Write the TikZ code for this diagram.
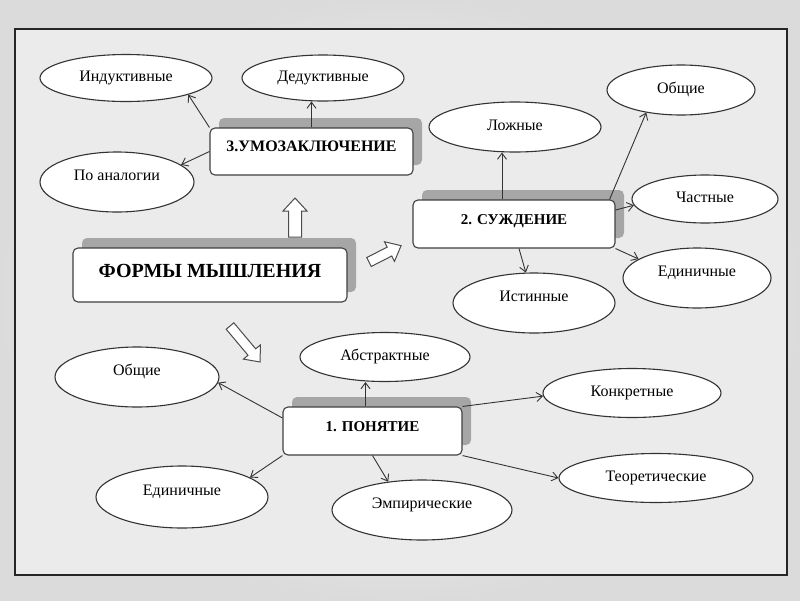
\documentclass[tikz,border=0pt]{standalone}
\usepackage{fontspec}
\setmainfont{Liberation Serif}
\usetikzlibrary{shapes.geometric,shadows,arrows.meta}

\begin{document}
\begin{tikzpicture}[x=1pt,y=-1pt,
  ell/.style={ellipse,draw=black!80,line width=1.1pt,fill=white,inner sep=0pt,
    font=\fontsize{16}{18}\selectfont,text height=10pt,text depth=3pt},
  lifted/.style={text depth=13pt},
  box/.style={rectangle,rounded corners=5pt,draw=black!75,line width=1.1pt,fill=white,
    inner sep=0pt,text height=10pt,text depth=10pt,font=\bfseries\fontsize{15}{17}\selectfont,
    drop shadow={shadow xshift=9pt,shadow yshift=10pt,fill=black!35,opacity=1}},
  link/.style={-{Straight Barb[length=6pt,width=9pt]},black!80,line width=0.9pt},
  blockarr/.style={fill=white,draw=black!70,line width=1pt}]
  \useasboundingbox (0,0) rectangle (800,600);
  \shade[inner color=white,outer color=gray!28] (0,0) rectangle (800,600);
  \fill[black!8] (15,29) rectangle (787,575);
  \draw[black!85,line width=2pt] (15,29) rectangle (787,575);

  % main boxes
  \node[box,minimum width=274pt,minimum height=54pt,text height=14pt,
    font=\bfseries\fontsize{20}{22}\selectfont] (forms) at (210,275) {ФОРМЫ МЫШЛЕНИЯ};
  \node[box,minimum width=203pt,minimum height=47pt,
    font=\bfseries\fontsize{16}{18}\selectfont] (umo) at (311.5,151.5) {3.УМОЗАКЛЮЧЕНИЕ};
  \node[box,minimum width=202pt,minimum height=48pt] (sud) at (514,224) {2. СУЖДЕНИЕ};
  \node[box,minimum width=179pt,minimum height=48pt,
    font=\bfseries\fontsize{15}{17}\selectfont] (pon) at (372.5,431) {1. ПОНЯТИЕ};

  % ellipses
  \node[ell,minimum width=172pt,minimum height=47pt] (ind) at (126,78) {Индуктивные};
  \node[ell,minimum width=162pt,minimum height=46pt] (ded) at (323,78) {Дедуктивные};
  \node[ell,lifted,minimum width=154pt,minimum height=60pt] (ana) at (117,182) {По аналогии};
  \node[ell,minimum width=172pt,minimum height=50pt] (lozh) at (515,127) {Ложные};
  \node[ell,minimum width=148pt,minimum height=50pt] (obsch) at (681,90) {Общие};
  \node[ell,minimum width=146pt,minimum height=48pt] (chast) at (705,199) {Частные};
  \node[ell,lifted,minimum width=148pt,minimum height=60pt] (edin) at (697,278) {Единичные};
  \node[ell,lifted,minimum width=162pt,minimum height=60pt] (ist) at (534,303) {Истинные};
  \node[ell,minimum width=170pt,minimum height=49pt] (abstr) at (385,357) {Абстрактные};
  \node[ell,lifted,minimum width=164pt,minimum height=60pt] (obsch2) at (137,377) {Общие};
  \node[ell,minimum width=178pt,minimum height=49pt] (konkr) at (632,393) {Конкретные};
  \node[ell,lifted,minimum width=172pt,minimum height=62pt] (edin2) at (182,497) {Единичные};
  \node[ell,lifted,minimum width=180pt,minimum height=60pt] (emp) at (422,510) {Эмпирические};
  \node[ell,minimum width=194pt,minimum height=49pt] (teor) at (656,478) {Теоретические};

  % links
  \draw[link] (umo.north west) -- (ind.-15);
  \draw[link] (umo.north) -- (umo.north |- ded.south);
  \draw[link] (umo.west) -- (ana.15);
  \draw[link] ([xshift=-12pt]sud.north) -- ([xshift=-12pt]sud.north |- lozh.south);
  \draw[link] ([xshift=-6pt]sud.north east) -- (obsch.-147);
  \draw[link] ([yshift=14pt]sud.east) -- (chast.185);
  \draw[link] (sud.south east) -- (edin.162);
  \draw[link] ([xshift=5pt]sud.south) -- (ist.105);
  \draw[link] ([xshift=-7pt]pon.north) -- ([xshift=-7pt]pon.north |- abstr.south);
  \draw[link] ([yshift=13pt]pon.west) -- (obsch2.-4);
  \draw[link] (pon.south west) -- (edin2.16);
  \draw[link] (pon.south) -- (emp.140);
  \draw[link] (pon.north east) -- (konkr.182);
  \draw[link] (pon.south east) -- (teor.west);

  % block arrows
  \foreach \x/\y/\a/\len/\sw/\hw in {295/237/90/39/6.5/12, 369/262/27/36/5/11, 230/326/-50/47/5/11} {
    \begin{scope}[shift={(\x,\y)},rotate=\a]
      \draw[blockarr] (0,-\sw) -- (\len-13,-\sw) -- (\len-13,-\hw) -- (\len,0)
        -- (\len-13,\hw) -- (\len-13,\sw) -- (0,\sw) -- cycle;
    \end{scope}
  }
\end{tikzpicture}
\end{document}
